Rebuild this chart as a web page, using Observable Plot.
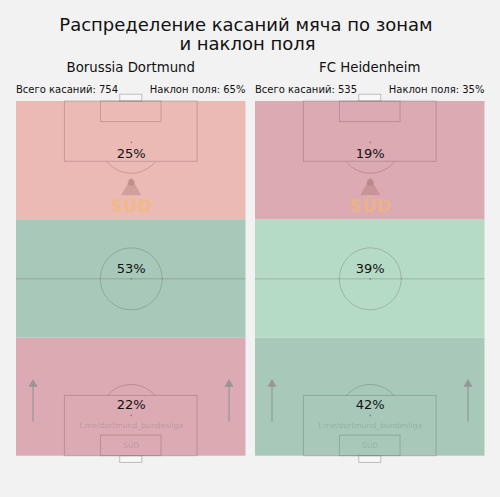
<!DOCTYPE html>
<html><head><meta charset="utf-8">
<script src="https://cdn.jsdelivr.net/npm/d3@7"></script>
<script src="https://cdn.jsdelivr.net/npm/@observablehq/plot@0.6"></script>
<style>
body{margin:0;background:#f2f2f2;font-family:"DejaVu Sans",sans-serif;}
#root{position:relative;width:500px;height:497px;background:#f2f2f2;overflow:hidden}
.t{position:absolute;white-space:nowrap;line-height:1;color:#111;font-family:"DejaVu Sans",sans-serif}
.c{transform:translateX(-50%)}
.r{transform:translateX(-100%)}
</style></head><body><div id="root"></div>
<script>
// ---- data ----
const titleLines = ["Распределение касаний мяча по зонам", "и наклон поля"];
const teams = ["Borussia Dortmund", "FC Heidenheim"];
const totalTouches = [754, 535];
const fieldTilt = [65, 35];
const zoneNames = ["defensive third", "middle third", "attacking third"]; // bottom -> top
const dortmundShares = [22, 53, 25];
const heidenheimShares = [42, 39, 19];
const zoneBounds = [0, 100 / 3, 200 / 3, 100];
const watermark = "t.me/dortmund_bundesliga";
const standLabel = "SÜD";

// ---- styles ----
const dortmundColors = ["#dcaab3", "#a8c9b9", "#ebbab5"];
const heidenheimColors = ["#a8c9b9", "#b6dbc5", "#dcaab3"];
const lineColor = "#5d4d4d";

const shares = [dortmundShares, heidenheimShares];
const colors = [dortmundColors, heidenheimColors];
const root = document.getElementById("root");

function addText(txt, x, baseline, fs, cls) {
  const d = document.createElement("div");
  d.className = "t " + cls;
  d.textContent = txt;
  d.style.left = x + "px";
  d.style.top = (baseline - 0.846 * fs) + "px";
  d.style.fontSize = fs + "px";
  root.appendChild(d);
}

addText(titleLines[0], 246, 31.5, 18, "c");
addText(titleLines[1], 247.5, 50.5, 18, "c");

// Opta-unit pitch geometry (x across width, y along length, 0 = own goal)
const lengthM = 105, widthM = 68;
const rx = 9.15 / widthM * 100, ry = 9.15 / lengthM * 100;
function ellipse(cx, cy, t0, t1, keep) {
  const pts = [];
  for (let k = 0; k <= 120; k++) {
    const t = t0 + (t1 - t0) * k / 120;
    const p = {x: cx + rx * Math.cos(t), y: cy + ry * Math.sin(t)};
    if (!keep || keep(p)) pts.push(p);
  }
  return pts;
}
const centerCircle = ellipse(50, 50, 0, 2 * Math.PI);
const arcTop = ellipse(50, 88.5, Math.PI, 2 * Math.PI, p => p.y <= 83);
const arcBottom = ellipse(50, 11.5, 0, Math.PI, p => p.y >= 17);
const boxes = [
  {x1: 21.1, x2: 78.9, y1: 0, y2: 17},
  {x1: 21.1, x2: 78.9, y1: 83, y2: 100},
  {x1: 36.8, x2: 63.2, y1: 0, y2: 5.8},
  {x1: 36.8, x2: 63.2, y1: 94.2, y2: 100}
];
const goals = [
  {x1: 45.2, x2: 54.8, y1: 100, y2: 101.9},
  {x1: 45.2, x2: 54.8, y1: -1.9, y2: 0}
];
const spots = [{x: 50, y: 50}, {x: 50, y: 11.5}, {x: 50, y: 88.5}];
const arrowXs = [7.2, 92.6];
const labelY = [14.6, 52.7, 85.3];

teams.forEach((team, i) => {
  const left = i === 0 ? 0 : 250;
  const mL = i === 0 ? 16 : 5, mR = i === 0 ? 4.5 : 15.5;
  const cx = left + mL + (250 - mL - mR) / 2;
  addText(team, cx, 72.3, 13.3, "c");
  addText("Всего касаний: " + totalTouches[i], left + mL, 93.3, 10, "");
  addText("Наклон поля: " + fieldTilt[i] + "%", left + 250 - mR, 93.3, 10, "r");

  const zones = zoneNames.map((z, k) => ({
    zone: z, y1: zoneBounds[k], y2: zoneBounds[k + 1],
    share: shares[i][k], color: colors[i][k], ly: labelY[k]
  }));

  const svg = Plot.plot({
    width: 250, height: 380,
    marginLeft: mL, marginRight: mR, marginTop: 13, marginBottom: 12.3,
    x: {domain: [0, 100], axis: null},
    y: {domain: [0, 100], axis: null},
    style: {background: "transparent", fontFamily: "DejaVu Sans, sans-serif", overflow: "visible"},
    marks: [
      Plot.rect(zones, {x1: () => 0, x2: () => 100, y1: "y1", y2: "y2", fill: "color"}),
      Plot.rect(goals, {x1: "x1", x2: "x2", y1: "y1", y2: "y2", fill: "#f7f7f7", stroke: "#9a9a9a", strokeOpacity: 0.6, strokeWidth: 1}),
      Plot.rect(boxes, {x1: "x1", x2: "x2", y1: "y1", y2: "y2", fill: "none", stroke: lineColor, strokeOpacity: 0.28, strokeWidth: 1}),
      Plot.ruleY([50], {x1: 0, x2: 100, stroke: lineColor, strokeOpacity: 0.28, strokeWidth: 1}),
      Plot.line(centerCircle, {x: "x", y: "y", stroke: lineColor, strokeOpacity: 0.28, strokeWidth: 1}),
      Plot.line(arcTop, {x: "x", y: "y", stroke: lineColor, strokeOpacity: 0.28, strokeWidth: 1}),
      Plot.line(arcBottom, {x: "x", y: "y", stroke: lineColor, strokeOpacity: 0.28, strokeWidth: 1}),
      Plot.dot(spots, {x: "x", y: "y", r: 0.9, fill: lineColor, fillOpacity: 0.5, stroke: "none"}),
      // logo in attacking third
      Plot.dot([{x: 50, y: 75.2}], {x: "x", y: "y", symbol: "triangle", r: 7.5, fill: "#a0706a", fillOpacity: 0.35, stroke: "none"}),
      Plot.dot([{x: 50, y: 77.2}], {x: "x", y: "y", r: 3.5, fill: "#a0706a", fillOpacity: 0.35, stroke: "none"}),
      Plot.text([standLabel], {x: () => 50, y: () => 70.4, text: d => d, fontSize: 17.5, fontWeight: "bold", fill: "#f7b96a", fillOpacity: 0.6}),
      // direction arrows
      Plot.ruleX(arrowXs, {x: d => d, y1: 9.6, y2: 20, stroke: "#8f8f8f", strokeOpacity: 0.8, strokeWidth: 1.2}),
      Plot.dot(arrowXs, {x: d => d, y: () => 20.3, symbol: "triangle", r: 3.4, fill: "#8f8f8f", fillOpacity: 0.8, stroke: "none"}),
      // watermark
      Plot.text([watermark], {x: () => 50, y: () => 8.65, text: d => d, fontSize: 7.7, fill: "#6d6d6d", fillOpacity: 0.3}),
      Plot.text([standLabel], {x: () => 50, y: () => 3.0, text: d => d, fontSize: 7.5, fill: "#6d6d6d", fillOpacity: 0.3}),
      // shares
      Plot.text(zones, {x: () => 50, y: "ly", text: d => d.share + "%", fontSize: 13, fill: "#111"})
    ]
  });
  svg.style.position = "absolute";
  svg.style.left = left + "px";
  svg.style.top = "88px";
  root.appendChild(svg);
});
</script></body></html>
